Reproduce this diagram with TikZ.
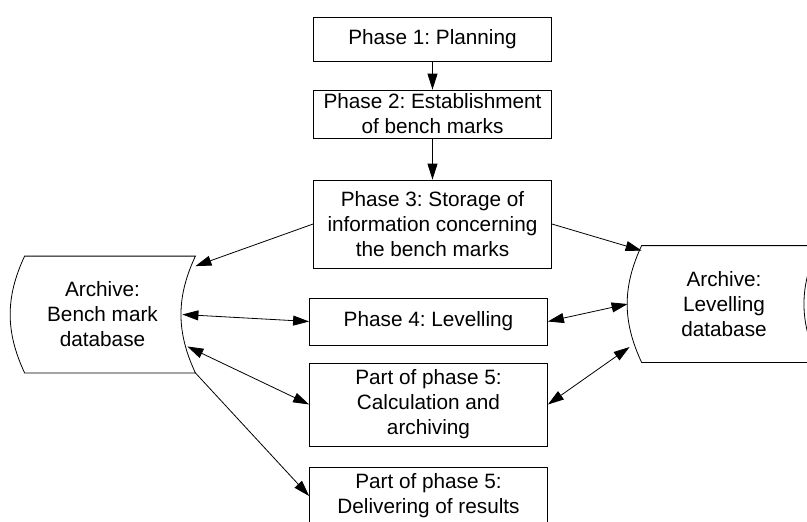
\documentclass[tikz,border=0pt]{standalone}
\usepackage{fontspec}
\setmainfont{Liberation Sans}
\usetikzlibrary{arrows.meta}
\frenchspacing

\begin{document}
\begin{tikzpicture}[x=1pt, y=-1pt, line width=0.8pt, >={Triangle[length=16pt,width=10pt]},
    every node/.style={font=\fontsize{20.75}{25}\selectfont, align=center, inner sep=0pt},
    phase/.style={draw, minimum width=238pt},
    archive/.style={minimum height=116pt}]
        \clip (0,0) rectangle (807,522);
        \node[phase, minimum height=44pt] (p1) at (432.5,39) {Phase 1: Planning};
        \node[phase, minimum height=48pt] (p2) at (432.5,114) {Phase 2: Establishment\\of bench marks};
        \node[phase, minimum height=88pt] (p3) at (432.5,224) {Phase 3: Storage of\\information concerning\\the bench marks};
        \node[phase, minimum height=47pt] (p4) at (428.5,321.5) {Phase 4: Levelling};
        \node[phase, minimum height=83pt] (p5a) at (428.5,404.5) {Part of phase 5:\\Calculation and\\archiving};
        \node[phase, minimum height=58pt] (p5b) at (428.5,496) {Part of phase 5:\\Delivering of results};
        % archives
        \node[archive, minimum width=170pt, label={[xshift=-7.5pt]center:Archive:\\Bench mark\\database}] (bmdb) at (110,314.5) {};
        \draw (bmdb.north west) to[bend right=25] (bmdb.south west) -- (bmdb.south east)
        to[bend left=25] (bmdb.north east) -- cycle;
        \node[archive, minimum width=176pt, label={[xshift=-6pt]center:Archive:\\Levelling\\database}] (lvdb) at (730,304) {};
        \draw (lvdb.north west) to[bend right=25] (lvdb.south west) -- (lvdb.south east)
        to[bend left=25] (lvdb.north east) -- cycle;
        % connectors
        \draw[->] (p1) -- (p2);
        \draw[->] (p2) -- (p3);
        \draw[->] (p3.west) -- ([yshift=-10pt]bmdb.north east);
        \draw[->] (p3.east) -- ([yshift=-5pt]lvdb.north west);
        \draw[<->] ([xshift=-13pt]bmdb.east) -- (p4.west);
        \draw[<->] ([xshift=-8pt,yshift=-32pt]bmdb.east) -- (p5a.west);
        \draw[->] (bmdb.south east) -- (p5b.west);
        \draw[<->] (p4.east) -- ([xshift=-14pt]lvdb.west);
        \draw[<->] (p5a.east) -- ([xshift=-12pt,yshift=-43pt]lvdb.west);
\end{tikzpicture}
\end{document}
